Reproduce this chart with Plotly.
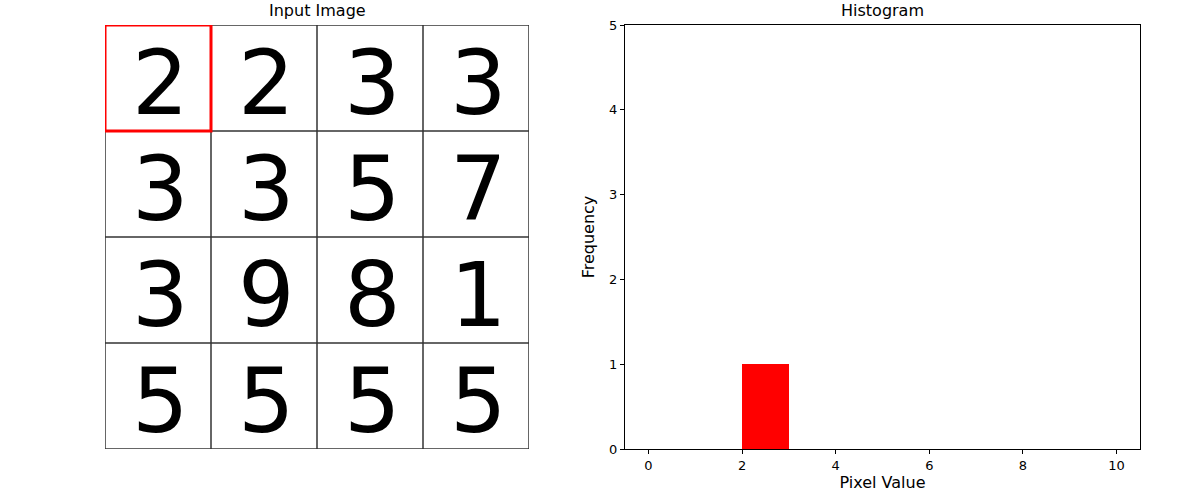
import plotly.graph_objects as go

# Data
image_values = [
    [2, 2, 3, 3],
    [3, 3, 5, 7],
    [3, 9, 8, 1],
    [5, 5, 5, 5],
]
highlight_cell = (0, 0)  # (row, col)
bin_lefts = [0, 1, 2, 3, 4, 5, 6, 7, 8, 9]
bin_counts = [0, 0, 1, 0, 0, 0, 0, 0, 0, 0]
x_ticks = [0, 2, 4, 6, 8, 10]
y_ticks = [0, 1, 2, 3, 4, 5]

FONT = "DejaVu Sans"
nrows = len(image_values)
ncols = len(image_values[0])

fig = go.Figure()

# Invisible anchor trace for the image axes
fig.add_trace(go.Scatter(
    x=[c for r in range(nrows) for c in range(ncols)],
    y=[r for r in range(nrows) for c in range(ncols)],
    mode="markers", marker=dict(opacity=0),
    xaxis="x", yaxis="y", showlegend=False, hoverinfo="skip",
))

annotations = []
for r, row in enumerate(image_values):
    for c, v in enumerate(row):
        annotations.append(dict(
            text=str(v), xref="x", yref="y", x=c, y=r,
            xanchor="center", yanchor="middle", showarrow=False,
            xshift=2, yshift=-5,
            font=dict(family=FONT, size=89, color="black"),
        ))

shapes = []
for i in range(ncols + 1):
    shapes.append(dict(type="line", xref="x", yref="y",
                       x0=i - 0.5, x1=i - 0.5, y0=-0.5, y1=nrows - 0.5,
                       line=dict(color="#333333", width=1.5)))
for j in range(nrows + 1):
    shapes.append(dict(type="line", xref="x", yref="y",
                       x0=-0.5, x1=ncols - 0.5, y0=j - 0.5, y1=j - 0.5,
                       line=dict(color="#333333", width=1.5)))
hr, hc = highlight_cell
shapes.append(dict(type="rect", xref="x", yref="y",
                   x0=hc - 0.5, x1=hc + 0.5, y0=hr - 0.5, y1=hr + 0.5,
                   line=dict(color="red", width=3)))

# Histogram
fig.add_trace(go.Bar(
    x=bin_lefts, y=bin_counts, width=[1] * len(bin_lefts), offset=0,
    marker=dict(color="red", line=dict(width=0)),
    xaxis="x2", yaxis="y2", showlegend=False,
))

annotations += [
    dict(text="Input Image", xref="paper", yref="paper",
         x=(105 + 529) / 2 / 1200, y=478 / 500, xanchor="center", yanchor="bottom",
         showarrow=False, font=dict(family=FONT, size=16)),
    dict(text="Histogram", xref="paper", yref="paper",
         x=(625 + 1140) / 2 / 1200, y=478 / 500, xanchor="center", yanchor="bottom",
         showarrow=False, font=dict(family=FONT, size=16)),
]

fig.update_layout(
    width=1200, height=500,
    margin=dict(l=0, r=0, t=0, b=0, pad=0, autoexpand=False),
    paper_bgcolor="white", plot_bgcolor="white",
    font=dict(family=FONT, color="black", size=13),
    shapes=shapes,
    annotations=annotations,
    bargap=0,
    xaxis=dict(domain=[105 / 1200, 529 / 1200], range=[-0.5, ncols - 0.5],
               visible=False, fixedrange=True, automargin=False),
    yaxis=dict(domain=[51 / 500, 475 / 500], range=[nrows - 0.5, -0.5],
               visible=False, fixedrange=True, automargin=False),
    xaxis2=dict(domain=[625 / 1200, 1140 / 1200], range=[-0.5, 10.5],
                anchor="y2", tickmode="array", tickvals=x_ticks,
                ticks="outside", ticklen=4, tickcolor="black",
                showline=True, linecolor="black", linewidth=1, mirror=True,
                showgrid=False, zeroline=False, automargin=False,
                tickfont=dict(family=FONT, size=13),
                title=dict(text="Pixel Value", font=dict(family=FONT, size=16), standoff=5)),
    yaxis2=dict(domain=[51 / 500, 475 / 500], range=[0, 5],
                anchor="x2", tickmode="array", tickvals=y_ticks,
                ticks="outside", ticklen=4, tickcolor="black",
                showline=True, linecolor="black", linewidth=1, mirror=True,
                showgrid=False, zeroline=False, automargin=False,
                tickfont=dict(family=FONT, size=13),
                title=dict(text="Frequency", font=dict(family=FONT, size=16), standoff=10)),
)

fig.write_html("out.html")
